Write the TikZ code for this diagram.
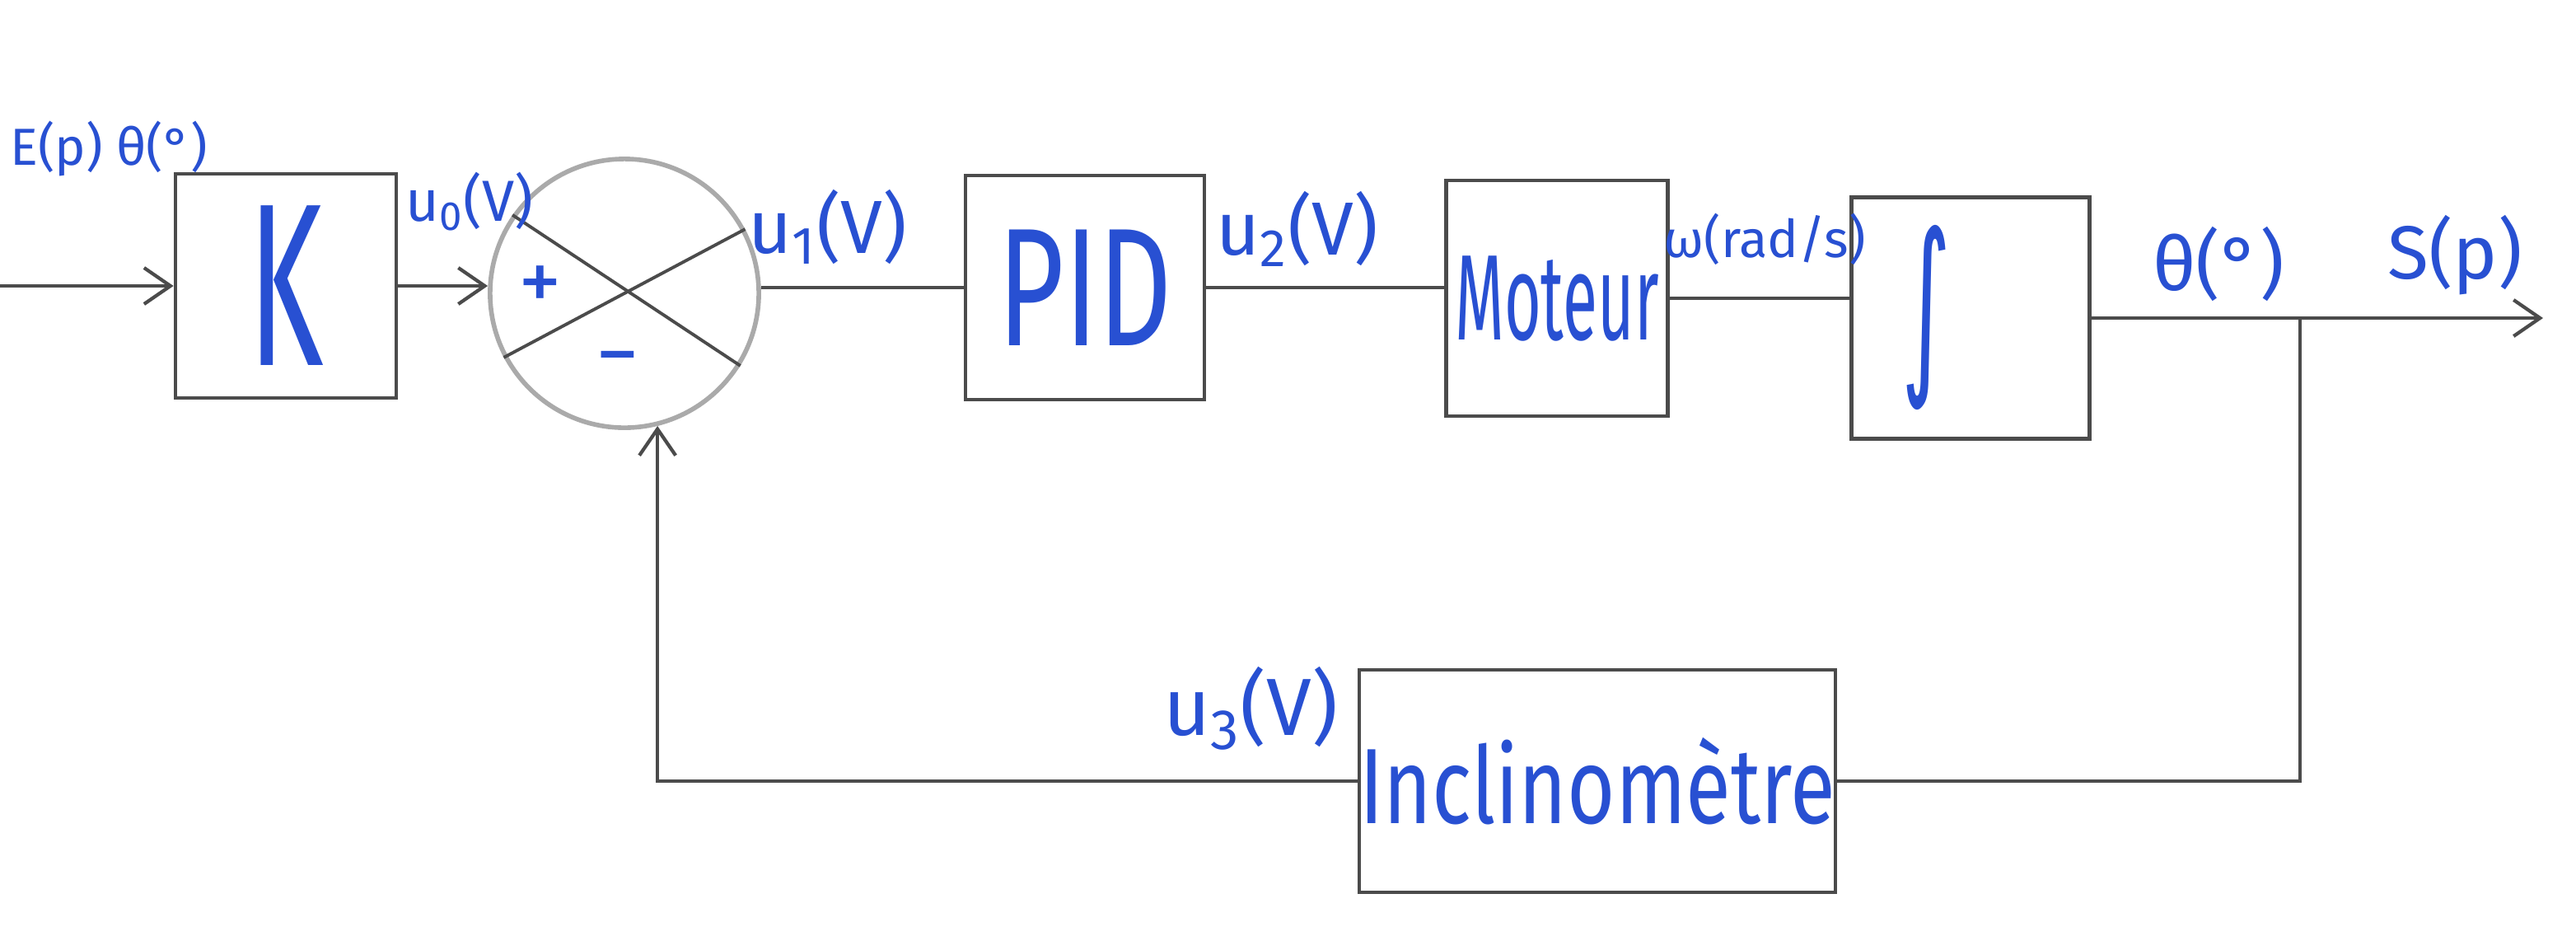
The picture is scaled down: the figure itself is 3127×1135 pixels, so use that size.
\documentclass[tikz,border=0pt]{standalone}
\usepackage{graphicx}
\usepackage{fontspec}
\setmainfont{Fira Sans}
\newfontfamily\djv{DejaVu Sans}
\usetikzlibrary{arrows.meta}
\definecolor{ink}{RGB}{40,80,210}
\definecolor{pencil}{RGB}{75,75,75}
\definecolor{rim}{RGB}{170,170,170}
\begin{document}
\begin{tikzpicture}[x=0.01cm,y=-0.01cm,
  blk/.style={draw=pencil,line width=1.3pt,inner sep=0pt,text=ink},
  wire/.style={draw=pencil,line width=1.2pt},
  arr/.style={wire,-{Straight Barb[length=0.32cm,width=0.44cm]}},
  lbl/.style={text=ink,inner sep=0pt,font=\fontsize{26}{30}\selectfont},
  sml/.style={text=ink,inner sep=0pt,font=\fontsize{20}{24}\selectfont}]
\useasboundingbox (0,0) rectangle (3127,1135);
% blocks
\node[blk,minimum width=2.68cm,minimum height=2.72cm,font=\fontsize{80}{90}\selectfont] (K) at (347,347) {\scalebox{0.55}[1]{K}};
\node[draw=rim,line width=1.6pt,circle,minimum size=3.26cm,inner sep=0pt] (circ) at (758,356) {};
\draw[pencil,line width=1.1pt] (circ.145) -- (circ.-32);
\draw[pencil,line width=1.1pt] (circ.28) -- (circ.208);
\node[blk,minimum width=2.90cm,minimum height=2.72cm,font=\fontsize{58}{66}\selectfont] (PID) at (1317,349) {\scalebox{0.68}[1]{PID}};
\node[blk,minimum width=2.69cm,minimum height=2.86cm,font=\fontsize{42}{50}\selectfont] (Mot) at (1890,362) {\scalebox{0.52}[1]{Moteur}};
\node[blk,minimum width=2.89cm,minimum height=2.93cm] (Int) at (2392,386) {};
\node[text=ink,inner sep=0pt] (intg) at (2338,385) {\resizebox{0.6cm}{1.75cm}{\djv ∫}};
\node[blk,minimum width=5.76cm,minimum height=2.70cm,font=\fontsize{37}{44}\selectfont] (Incl) at (1939,948) {\scalebox{0.77}[1]{Inclinomètre}};
% signs
\node[text=ink,inner sep=0pt,font=\fontsize{30}{34}\selectfont] (plus) at (656,350) {+};
\node[text=ink,inner sep=0pt,font=\fontsize{30}{34}\selectfont] (minus) at (750,446) {−};
% connectors
\coordinate (in) at (0,347);
\coordinate (br) at (2792,386);
\coordinate (out) at (3087,386);
\draw[arr] (in) -- (K.west);
\draw[arr] (K.east) -- (K.east -| circ.west);
\draw[wire] (circ.east |- PID.west) -- (PID.west);
\draw[wire] (PID.east) -- (PID.east -| Mot.west);
\draw[wire] (Mot.east) -- (Mot.east -| Int.west);
\draw[arr] (Int.east) -- (out);
\draw[wire] (br) |- (Incl.east);
\draw[arr] (Incl.west) -| (circ.-76);
% labels
\node[sml,font=\fontsize{18}{22}\selectfont] (lE) at (132,180) {E(p) θ(°)};
\node[sml] (lu0) at (570,245) {u\textsubscript{0}(V)};
\node[lbl] (lu1) at (1005,275) {u\textsubscript{1}(V)};
\node[lbl] (lu2) at (1575,278) {u\textsubscript{2}(V)};
\node[sml,font=\fontsize{18}{22}\selectfont] (lw) at (2142,290) {ω(rad/s)};
\node[lbl] (lth) at (2693,320) {θ(°)};
\node[lbl] (lS) at (2980,310) {S(p)};
\node[lbl,font=\fontsize{28}{32}\selectfont] (lu3) at (1518,860) {u\textsubscript{3}(V)};
\end{tikzpicture}
\end{document}
